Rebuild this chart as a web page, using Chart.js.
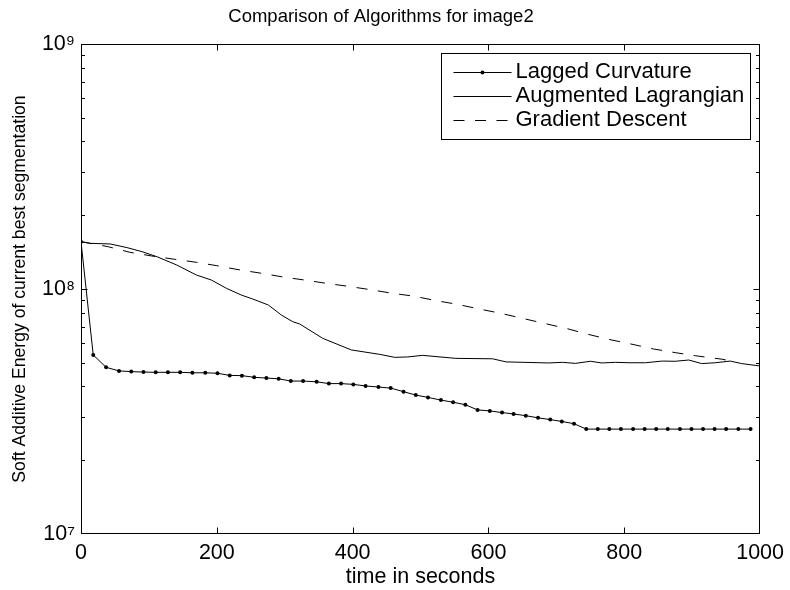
<!DOCTYPE html>
<html>
<head>
<meta charset="utf-8">
<script src="https://cdn.jsdelivr.net/npm/chart.js@4/dist/chart.umd.min.js"></script>
<style>
  html, body { margin: 0; padding: 0; background: #fff; }
  #wrap { width: 790px; height: 590px; }
</style>
</head>
<body>
<div id="wrap"><canvas id="chart" width="790" height="590"></canvas></div>
<script>
// Lagged Curvature (dots on every sample)
const lagTime = [0, 18, 37, 56, 74, 92, 110, 128, 146, 164, 183, 201, 219, 237, 255, 273, 291, 309, 327,
  347, 365, 383, 401, 419, 438, 456, 475, 493, 511, 530, 548, 566, 584, 602, 620, 637, 655, 673, 691,
  708, 726, 744, 761, 778, 795, 813, 830, 847, 864, 882, 899, 916, 933, 950, 968, 986];
const lagEnergy = [1.56e8, 5.38e7, 4.79e7, 4.63e7, 4.60e7, 4.58e7, 4.57e7, 4.57e7, 4.57e7, 4.55e7,
  4.55e7, 4.53e7, 4.44e7, 4.43e7, 4.36e7, 4.33e7, 4.30e7, 4.21e7, 4.21e7, 4.18e7, 4.11e7, 4.11e7,
  4.08e7, 4.02e7, 3.98e7, 3.94e7, 3.81e7, 3.69e7, 3.61e7, 3.52e7, 3.45e7, 3.37e7, 3.21e7, 3.18e7,
  3.13e7, 3.09e7, 3.04e7, 2.98e7, 2.93e7, 2.88e7, 2.82e7, 2.68e7, 2.68e7, 2.68e7, 2.68e7, 2.68e7,
  2.68e7, 2.68e7, 2.68e7, 2.68e7, 2.68e7, 2.68e7, 2.68e7, 2.68e7, 2.68e7, 2.68e7];

// Augmented Lagrangian (solid)
const augTime = [0, 14, 43, 68, 90, 112, 141, 170, 192, 214, 236, 253, 276, 295, 312, 322, 356, 398,
  440, 462, 481, 503, 552, 606, 626, 689, 709, 728, 750, 767, 787, 807, 831, 856, 875, 895, 914, 934,
  956, 973, 1000];
const augEnergy = [1.56e8, 1.536e8, 1.527e8, 1.475e8, 1.42e8, 1.354e8, 1.253e8, 1.14e8, 1.088e8,
  1.007e8, 9.45e7, 9.1e7, 8.6e7, 7.83e7, 7.35e7, 7.2e7, 6.29e7, 5.64e7, 5.41e7, 5.26e7, 5.28e7,
  5.36e7, 5.21e7, 5.19e7, 5.04e7, 4.99e7, 5.02e7, 4.97e7, 5.07e7, 4.99e7, 5.02e7, 5.0e7, 5.0e7,
  5.08e7, 5.07e7, 5.13e7, 4.96e7, 5.0e7, 5.08e7, 4.96e7, 4.85e7];

// Gradient Descent (dashed)
const gdTime = [0, 40, 72, 104, 138, 170, 200, 234, 266, 297, 329, 361, 393, 427, 459, 491, 523, 554,
  586, 618, 650, 682, 714, 745, 777, 809, 843, 875, 905, 944, 960];
const gdEnergy = [1.56e8, 1.488e8, 1.412e8, 1.364e8, 1.322e8, 1.285e8, 1.245e8, 1.196e8, 1.159e8,
  1.12e8, 1.088e8, 1.055e8, 1.026e8, 9.93e7, 9.6e7, 9.34e7, 8.96e7, 8.66e7, 8.29e7, 7.96e7, 7.59e7,
  7.24e7, 6.91e7, 6.55e7, 6.23e7, 5.97e7, 5.69e7, 5.5e7, 5.34e7, 5.17e7, 5.06e7];

const seriesNames = ['Lagged Curvature', 'Augmented Lagrangian', 'Gradient Descent'];
const xTickValues = [0, 200, 400, 600, 800, 1000];
const yTickValues = [1e7, 1e8, 1e9];
const yTickLabels = ['10\u2077', '10\u2078', '10\u2079'];

const FONT = '"Liberation Sans", Arial, Helvetica, sans-serif';
const DASH = [11, 10.5];

Chart.defaults.color = '#000';
Chart.defaults.font.family = FONT;
Chart.defaults.font.size = 21.5;

function pts(xs, ys) {
  return xs.map((x, i) => ({ x: x, y: ys[i] }));
}

// matlab style box, inward ticks and legend
const matlabAxes = {
  id: 'matlabAxes',
  afterDatasetsDraw(chart) {
    const { ctx, chartArea: a, scales: { x, y } } = chart;
    const L = Math.round(a.left) + 0.5, R = Math.round(a.right) - 0.5;
    const T = Math.round(a.top) + 0.5, B = Math.round(a.bottom) - 0.5;
    ctx.save();
    ctx.strokeStyle = '#000';
    ctx.fillStyle = '#000';
    ctx.lineWidth = 1;
    ctx.setLineDash([]);
    ctx.beginPath();
    xTickValues.forEach(v => {
      const px = Math.min(R, Math.max(L, Math.round(x.getPixelForValue(v)) + 0.5));
      ctx.moveTo(px, B); ctx.lineTo(px, B - 6);
      ctx.moveTo(px, T); ctx.lineTo(px, T + 6);
    });
    for (let d = 1e7; d <= 1e9; d *= 10) {
      for (let m = 1; m <= 9; m++) {
        const v = d * m;
        if (v > 1e9) break;
        const py = Math.min(B, Math.max(T, Math.round(y.getPixelForValue(v)) + 0.5));
        const len = m === 1 ? 6 : 3.5;
        ctx.moveTo(L, py); ctx.lineTo(L + len, py);
        ctx.moveTo(R, py); ctx.lineTo(R - len, py);
      }
    }
    ctx.stroke();
    ctx.strokeRect(L, T, R - L, B - T);

    // legend
    const lw = 309, lh = 86;
    const lx = Math.round(a.right - 10 - lw) + 0.5, ly = Math.round(a.top + 9) + 0.5;
    ctx.fillStyle = '#fff';
    ctx.fillRect(lx, ly, lw, lh);
    ctx.strokeRect(lx, ly, lw, lh);
    ctx.font = '22px ' + FONT;
    ctx.textAlign = 'left';
    ctx.textBaseline = 'middle';
    ctx.fillStyle = '#000';
    seriesNames.forEach((name, i) => {
      const ry = ly + 18.5 + i * 24;
      const x0 = lx + 12, x1 = lx + 70;
      ctx.beginPath();
      ctx.setLineDash(i === 2 ? DASH : []);
      ctx.moveTo(x0, Math.round(ry) + 0.5);
      ctx.lineTo(x1, Math.round(ry) + 0.5);
      ctx.stroke();
      ctx.setLineDash([]);
      if (i === 0) {
        ctx.beginPath();
        ctx.arc((x0 + x1) / 2, Math.round(ry) + 0.5, 2, 0, Math.PI * 2);
        ctx.fill();
      }
      ctx.fillText(name, lx + 74, ry);
    });
    ctx.restore();
  }
};

new Chart(document.getElementById('chart'), {
  type: 'line',
  data: {
    datasets: [
      {
        label: seriesNames[0],
        data: pts(lagTime, lagEnergy),
        borderColor: '#000',
        backgroundColor: '#000',
        borderWidth: 1,
        pointRadius: 2,
        pointBorderWidth: 0,
        pointBackgroundColor: '#000'
      },
      {
        label: seriesNames[1],
        data: pts(augTime, augEnergy),
        borderColor: '#000',
        borderWidth: 1,
        pointRadius: 0
      },
      {
        label: seriesNames[2],
        data: pts(gdTime, gdEnergy),
        borderColor: '#000',
        borderWidth: 1,
        borderDash: DASH,
        pointRadius: 0
      }
    ]
  },
  options: {
    responsive: false,
    animation: false,
    events: [],
    layout: { padding: { top: 0, right: 28, bottom: 0, left: 0 } },
    plugins: {
      legend: { display: false },
      tooltip: { enabled: false },
      title: {
        display: true,
        text: 'Comparison of Algorithms for image2',
        font: { size: 18.5, weight: 'normal' },
        padding: { top: 6, bottom: 15.8 }
      }
    },
    scales: {
      x: {
        type: 'linear',
        min: 0,
        max: 1000,
        afterBuildTicks(s) { s.ticks = xTickValues.map(v => ({ value: v })); },
        afterFit(s) { s.height = 56; },
        grid: { display: false, drawTicks: false },
        border: { display: false },
        ticks: { padding: 6, maxRotation: 0, autoSkip: false, callback: v => String(v) },
        title: { display: true, text: 'time in seconds', padding: { top: 0, bottom: 0.5 } }
      },
      y: {
        type: 'logarithmic',
        min: 1e7,
        max: 1e9,
        afterBuildTicks(s) { s.ticks = yTickValues.map(v => ({ value: v })); },
        afterFit(s) { s.width = 81; },
        grid: { display: false, drawTicks: false },
        border: { display: false },
        ticks: {
          padding: 6,
          autoSkip: false,
          callback(v) {
            const i = yTickValues.indexOf(v);
            return i >= 0 ? yTickLabels[i] : '';
          }
        },
        title: {
          display: true,
          text: 'Soft Additive Energy of current best segmentation',
          font: { size: 17.6 },
          padding: { top: 9.4, bottom: 0 }
        }
      }
    }
  },
  plugins: [matlabAxes]
});
</script>
</body>
</html>
